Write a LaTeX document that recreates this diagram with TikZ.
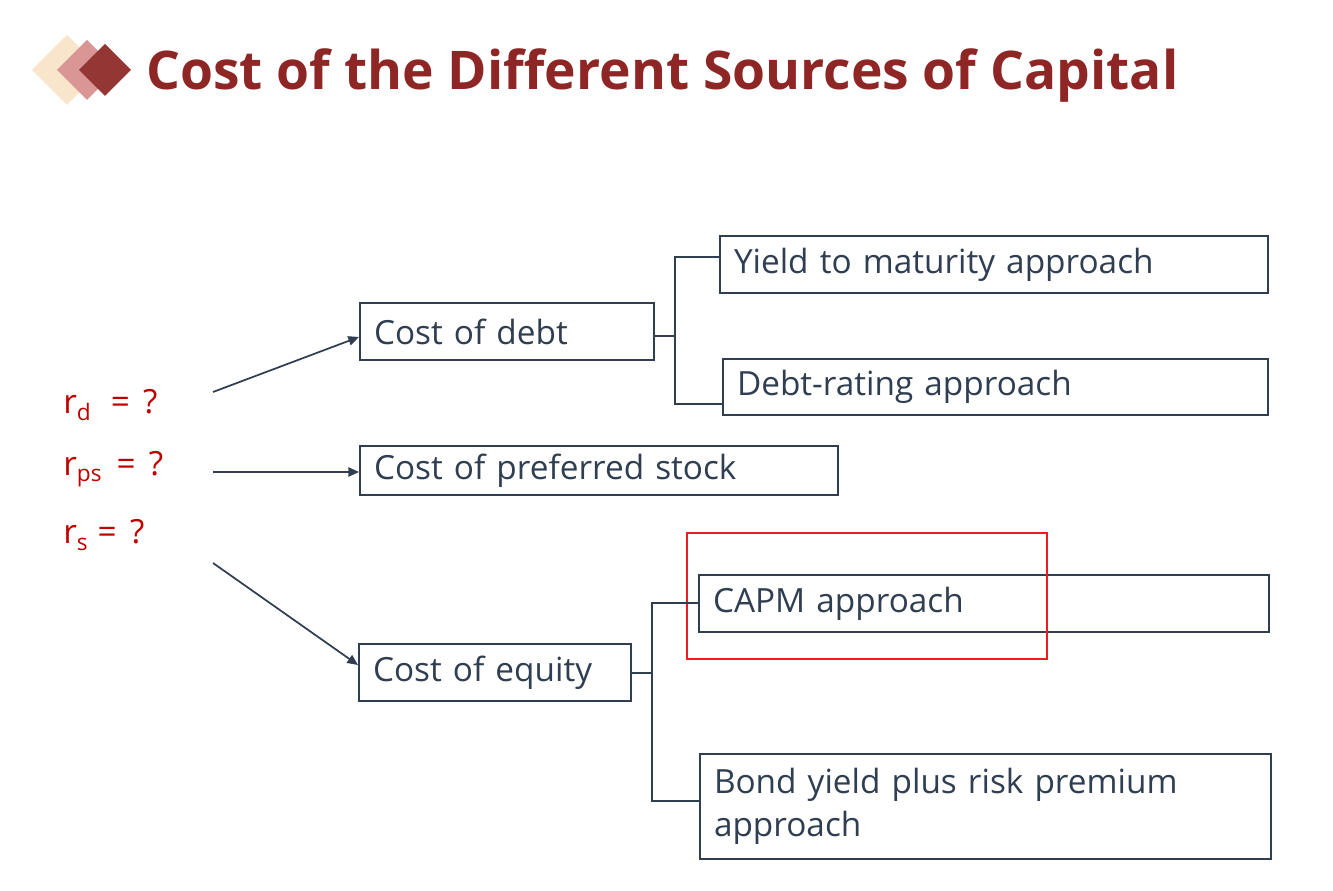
\documentclass[tikz,border=0pt]{standalone}
\usepackage{fontspec}
\setmainfont{Open Sans}
\usetikzlibrary{arrows.meta}
\definecolor{ink}{HTML}{2F3E50}
\definecolor{titlered}{HTML}{8E2626}
\definecolor{qred}{HTML}{C00000}
\definecolor{dlight}{HTML}{F8E5CC}
\definecolor{dpink}{HTML}{DA9595}
\definecolor{ddark}{HTML}{943634}
\definecolor{hl}{HTML}{EE1C1C}
\begin{document}
\begin{tikzpicture}[x=0.75pt,y=-0.75pt,
  box/.style={draw=ink, line width=1.5pt, anchor=north west, inner xsep=10.5pt, inner ysep=0pt,
    align=left, text=ink, font=\fontsize{25}{32}\selectfont},
  conn/.style={draw=ink, line width=1.3pt},
  arr/.style={conn, -{Triangle[length=8pt,width=7pt]}},
  qlab/.style={anchor=west, text=qred, inner sep=0pt, font=\fontsize{25}{30}\selectfont}]
\useasboundingbox (0,0) rectangle (1333,891);
% diamonds
\fill[dlight] (67,35) -- (102,70) -- (67,105) -- (32,70) -- cycle;
\fill[dpink] (87,40) -- (117,70) -- (87,100) -- (57,70) -- cycle;
\fill[ddark] (105,44) -- (131,70) -- (105,96) -- (79,70) -- cycle;
\node[anchor=west, inner sep=0pt, text=titlered, font=\fontsize{40}{46}\bfseries\selectfont] (title) at (146,76) {Cost of the Different Sources of Capital};
% boxes
\node[box, text width=199.5pt, minimum height=42.75pt] (debt) at (359,302) {Cost of debt};
\node[box, text width=390pt, minimum height=42.75pt] (ytm) at (719,235) {Yield to maturity approach};
\node[box, text width=387.75pt, minimum height=42pt] (rating) at (722,358) {Debt-rating approach};
\node[box, text width=337.5pt, minimum height=36.75pt] (pref) at (359,445) {Cost of preferred stock};
\node[box, text width=183pt, minimum height=42.75pt] (equity) at (358,643) {Cost of equity};
\node[box, text width=406.5pt, minimum height=42.75pt] (capm) at (698,574) {CAPM approach};
\node[box, text width=407.25pt, minimum height=78.75pt] (bond) at (699,753) {Bond yield plus risk premium\\approach};
% highlight
\node[draw=hl, line width=1.5pt, anchor=north west, minimum width=270pt, minimum height=94.5pt, inner sep=0pt] (hlbox) at (686,532) {};
% labels
\node[qlab] (rd) at (63,405) {r\raisebox{-0.35ex}{\fontsize{17}{20}\selectfont d}\hspace{0.6em}=\hspace{0.4em}?};
\node[qlab] (rps) at (63,469) {r\raisebox{-0.35ex}{\fontsize{17}{20}\selectfont ps}\hspace{0.45em}=\hspace{0.4em}?};
\node[qlab] (rs) at (63,535) {r\raisebox{-0.35ex}{\fontsize{17}{20}\selectfont s}\hspace{0.3em}=\hspace{0.4em}?};
% arrows
\coordinate (a1) at (213,392);
\coordinate (a2) at (213,472);
\coordinate (a3) at (213,563);
\draw[arr] (a1) -- (debt.west |- 0,337);
\draw[arr] (a2) -- (pref.west |- 0,472);
\draw[arr] (a3) -- (equity.west |- 0,665);
% brackets
\coordinate (j1) at (675,336);
\draw[conn] (debt.east |- j1) -- (j1);
\draw[conn] (ytm.west |- 0,257) -- (675,257) -- (675,404) -- (rating.west |- 0,404);
\coordinate (j2) at (652,673);
\draw[conn] (equity.east |- j2) -- (j2);
\draw[conn] (capm.west |- 0,603) -- (652,603) -- (652,801) -- (bond.west |- 0,801);
\end{tikzpicture}
\end{document}
